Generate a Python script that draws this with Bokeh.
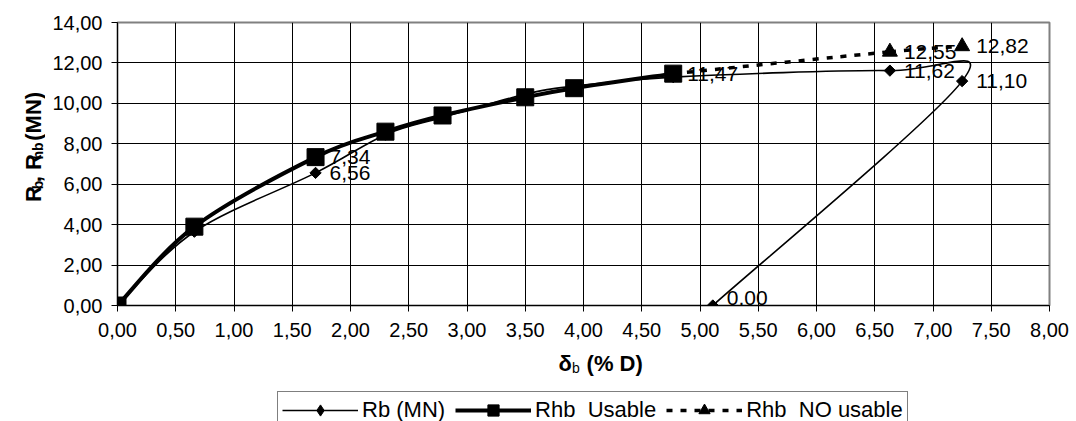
import math
from bokeh.plotting import figure
from bokeh.layouts import column, row
from bokeh.models import (Range1d, SingleIntervalTicker, CustomJSTickFormatter, Label,
                          Legend, LegendItem, ColumnDataSource)
from bokeh.core.properties import value
from bokeh.embed import file_html
from bokeh.resources import INLINE

# ---------------- data ----------------
rb_x = [0.00, 0.66, 1.70, 2.30, 2.79, 3.50, 3.92, 4.77, 6.63, 7.25, 5.11]
rb_y = [0.00, 3.65, 6.56, 8.45, 9.30, 10.45, 10.85, 11.30, 11.62, 11.10, 0.00]
rb_label_idx = [2, 8, 9, 10]

rhb_x = [0.00, 0.66, 1.70, 2.30, 2.79, 3.50, 3.92, 4.77]
rhb_y = [0.00, 3.90, 7.34, 8.60, 9.40, 10.30, 10.75, 11.47]
rhb_label_idx = [2, 7]

nu_x = [4.77, 6.63, 7.25]
nu_y = [11.47, 12.55, 12.82]
nu_label_idx = [1, 2]

series_names = ["Rb (MN)", "Rhb  Usable", "Rhb  NO usable"]
x_ticks_step = 0.5
y_ticks_step = 2.0
x_lim = (0.0, 8.0)
y_lim = (0.0, 14.0)

FONT = "Liberation Sans"
W, H = 1076, 421
LEFT_W = 45          # strip holding the y title
TOP_H = 350          # plot canvas height
FOOT_H = H - TOP_H   # strip holding x title + legend


def fmt(v):
    return ("%.2f" % v).replace(".", ",")


def smooth(xs, ys):
    """Excel-like smoothed line: cubic Bezier segments through the data points."""
    n = len(xs)
    d = dict(x0=[], y0=[], x1=[], y1=[], cx0=[], cy0=[], cx1=[], cy1=[])
    for i in range(n - 1):
        ip = i - 1 if i > 0 else i
        in2 = i + 2 if i + 2 < n else i + 1
        d["x0"].append(xs[i]); d["y0"].append(ys[i])
        d["x1"].append(xs[i + 1]); d["y1"].append(ys[i + 1])
        d["cx0"].append(xs[i] + (xs[i + 1] - xs[ip]) / 6.0)
        d["cy0"].append(ys[i] + (ys[i + 1] - ys[ip]) / 6.0)
        d["cx1"].append(xs[i + 1] - (xs[in2] - xs[i]) / 6.0)
        d["cy1"].append(ys[i + 1] - (ys[in2] - ys[i]) / 6.0)
    return ColumnDataSource(d)


def blank(w, h):
    f = figure(width=w, height=h, output_backend="svg", toolbar_location=None,
               x_range=Range1d(0, w), y_range=Range1d(0, h),
               x_axis_type=None, y_axis_type=None,
               min_border_left=0, min_border_right=0, min_border_top=0,
               min_border_bottom=0, background_fill_color="white",
               border_fill_color="white")
    f.outline_line_color = None
    f.grid.visible = False
    return f


# ---------------- main plot ----------------
p = figure(width=W - LEFT_W, height=TOP_H, output_backend="svg", toolbar_location=None,
           x_range=Range1d(*x_lim), y_range=Range1d(*y_lim),
           min_border_left=117 - LEFT_W, min_border_right=27, min_border_top=22,
           min_border_bottom=TOP_H - 305, background_fill_color="white",
           border_fill_color="white")
p.outline_line_color = "#808080"
p.outline_line_width = 2

xt = SingleIntervalTicker(interval=x_ticks_step, num_minor_ticks=0)
yt = SingleIntervalTicker(interval=y_ticks_step, num_minor_ticks=0)
p.xaxis.ticker = xt
p.yaxis.ticker = yt
p.xgrid.ticker = xt
p.ygrid.ticker = yt
for g in (p.xgrid, p.ygrid):
    g.grid_line_color = "black"
    g.grid_line_width = 1
    g.grid_line_alpha = 1.0

fmtr = CustomJSTickFormatter(code="return tick.toFixed(2).replace('.', ',');")
for ax in (p.xaxis[0], p.yaxis[0]):
    ax.formatter = fmtr
    ax.axis_line_color = "black"
    ax.axis_line_width = 1
    ax.major_tick_line_color = "black"
    ax.major_tick_out = 6
    ax.major_tick_in = 0
    ax.minor_tick_out = 0
    ax.minor_tick_in = 0
    ax.major_label_text_font = FONT
    ax.major_label_text_font_size = "20px"
    ax.major_label_text_color = "black"
p.xaxis.major_label_standoff = 11
p.yaxis.major_label_standoff = 9

STY_RB = dict(line_color="black", line_width=1.6)
STY_RHB = dict(line_color="black", line_width=4)
STY_NU = dict(line_color="black", line_width=3.5, line_dash="6 8")
MK_RB = dict(marker="square", angle=math.pi / 4, size=8, fill_color="black", line_color="black")
MK_RHB = dict(marker="square", size=17, fill_color="black", line_color="black")
MK_NU = dict(marker="triangle", size=15, fill_color="black", line_color="black")

bz = dict(x0="x0", y0="y0", x1="x1", y1="y1", cx0="cx0", cy0="cy0", cx1="cx1", cy1="cy1")
p.bezier(source=smooth(rb_x, rb_y), **bz, **STY_RB)
p.scatter(rb_x, rb_y, **MK_RB)
p.bezier(source=smooth(rhb_x, rhb_y), **bz, **STY_RHB)
p.scatter(rhb_x, rhb_y, **MK_RHB)
p.bezier(source=smooth(nu_x, nu_y), **bz, **STY_NU)
p.scatter(nu_x[1:], nu_y[1:], **MK_NU)

# data labels
for xs, ys, idx in ((rb_x, rb_y, rb_label_idx), (rhb_x, rhb_y, rhb_label_idx),
                    (nu_x, nu_y, nu_label_idx)):
    src = ColumnDataSource(dict(
        x=[xs[i] for i in idx], y=[ys[i] for i in idx], t=[fmt(ys[i]) for i in idx],
        yo=[-8 if ys[i] <= y_lim[0] else 0 for i in idx]))
    p.text(x="x", y="y", text="t", source=src, x_offset=14, y_offset="yo",
           text_align="left", text_baseline="middle", text_font=value(FONT),
           text_font_size="21px", text_color="black")


def lab(fig, text, x, y, size, bold=True, angle=0.0):
    fig.add_layout(Label(x=x, y=y, text=text, angle=angle,
                         text_font=FONT, text_font_size=size,
                         text_font_style="bold" if bold else "normal",
                         text_align="left", text_baseline="alphabetic",
                         text_color="black"))


# ---------------- left strip: y title  R_b, R_hb (MN) ----------------
left = blank(LEFT_W, TOP_H)
base_x = 33
pos = TOP_H - 222
pieces = [("R", 15.9, False), ("b", 8.6, True), (", R", 28.1, False),
          ("hb", 17.1, True), ("(MN)", 48.9, False)]
for t, w, sub in pieces:
    if t == "(MN)":
        pos += 6.1
    lab(left, t, base_x + (4.5 if sub else 0), pos, "14px" if sub else "22px",
        bold=True, angle=math.pi / 2)
    pos += w

# ---------------- footer: x title  δ_b (% D)  + legend ----------------
foot = blank(W, FOOT_H)
bx = 558
by = H - 363
lab(foot, "δ", bx, by, "22px")
lab(foot, "b", bx + 13.4, by - 4.5, "14px", bold=False)
lab(foot, "(% D)", bx + 13.4 + 8.6 + 6.1, by, "22px")

MK_RB_LEG = dict(MK_RB, marker="diamond", angle=0.0)
r1 = [foot.line(rb_x, rb_y, visible=False, **STY_RB),
      foot.scatter(rb_x, rb_y, visible=False, **MK_RB_LEG)]
r2 = [foot.line(rhb_x, rhb_y, visible=False, **STY_RHB),
      foot.scatter(rhb_x, rhb_y, visible=False, **MK_RHB)]
r3 = [foot.line(nu_x, nu_y, visible=False, **STY_NU),
      foot.scatter(nu_x, nu_y, visible=False, **MK_NU)]
legend = Legend(items=[LegendItem(label=series_names[0], renderers=r1),
                       LegendItem(label=series_names[1], renderers=r2),
                       LegendItem(label=series_names[2], renderers=r3)],
                orientation="horizontal", location=(277, -8),
                label_text_font=FONT, label_text_font_size="22px",
                label_text_color="black", glyph_width=76, glyph_height=28,
                label_height=24, label_standoff=4, spacing=10, padding=4, margin=0,
                border_line_color="black", border_line_width=1,
                background_fill_color="white", background_fill_alpha=1.0)
foot.add_layout(legend, "center")

layout = column(row(left, p, spacing=0), foot, spacing=0)
open("out.html", "w").write(file_html(layout, INLINE))
